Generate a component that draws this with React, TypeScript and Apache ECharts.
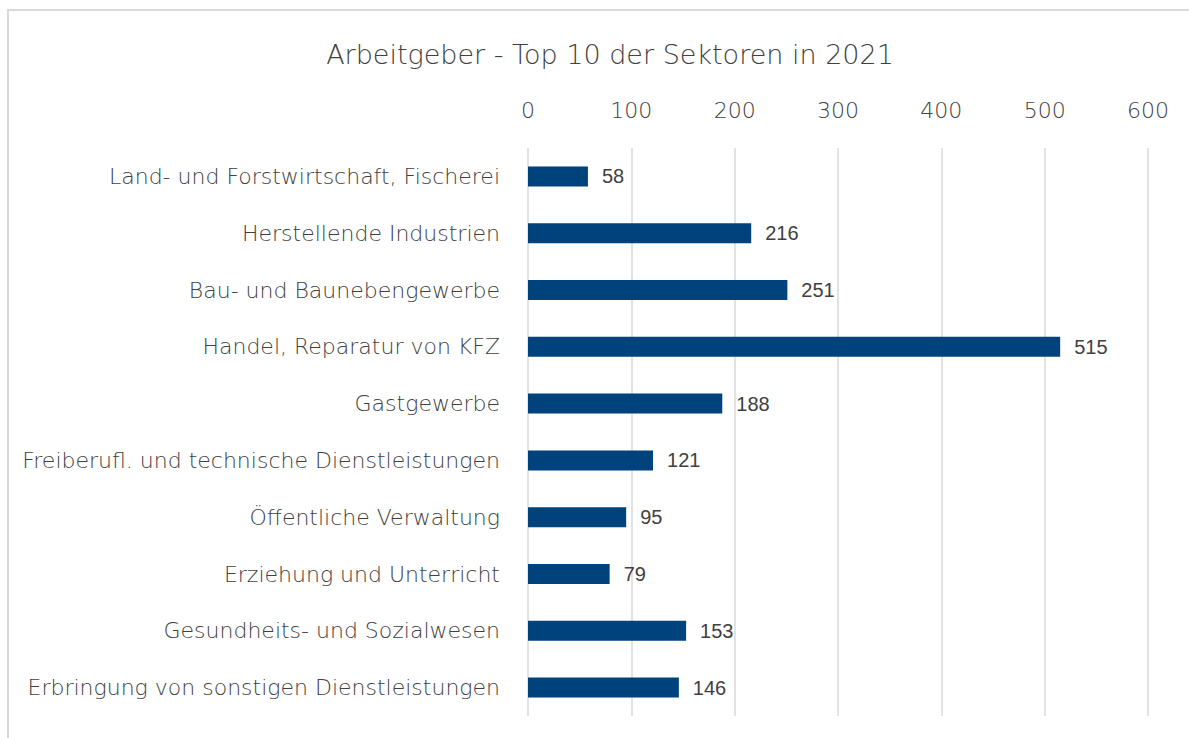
import React, { useEffect, useRef } from "react";
import * as echarts from "echarts";

const categories = [
  "Land- und Forstwirtschaft, Fischerei",
  "Herstellende Industrien",
  "Bau- und Baunebengewerbe",
  "Handel, Reparatur von KFZ",
  "Gastgewerbe",
  "Freiberufl. und technische Dienstleistungen",
  "Öffentliche Verwaltung",
  "Erziehung und Unterricht",
  "Gesundheits- und Sozialwesen",
  "Erbringung von sonstigen Dienstleistungen",
];
const values = [58, 216, 251, 515, 188, 121, 95, 79, 153, 146];
const titleText = "Arbeitgeber - Top 10 der Sektoren in 2021";

const FONT = "'DejaVu Sans', Inter, sans-serif";
const LABEL_FONT = "'Liberation Sans', Arial, sans-serif";
const TEXT = "#404040";

export default function App() {
  const ref = useRef<HTMLDivElement>(null);
  useEffect(() => {
    const chart = echarts.init(ref.current!, null, { renderer: "svg" });
    chart.setOption({
      animation: false,
      backgroundColor: "#ffffff",
      title: {
        text: titleText,
        left: 605,
        textAlign: "center",
        top: 36,
        textStyle: { fontFamily: FONT, fontSize: 27, fontWeight: 200, color: TEXT },
      },
      graphic: [
        {
          type: "rect",
          shape: { x: 8, y: 10, width: 1200, height: 800 },
          style: { fill: "none", stroke: "#d9d9d9", lineWidth: 2 },
          silent: true,
          z: -1,
        },
      ],
      grid: { left: 528, right: 41, top: 148, bottom: 22, containLabel: false },
      xAxis: {
        type: "value",
        position: "top",
        min: 0,
        max: 600,
        interval: 100,
        axisLine: { show: false },
        axisTick: { show: false },
        axisLabel: { margin: 27, fontFamily: FONT, fontSize: 22, fontWeight: 200, color: TEXT },
        splitLine: { show: true, lineStyle: { color: "#d9d9d9", width: 1.5 } },
      },
      yAxis: {
        type: "category",
        data: categories,
        inverse: true,
        axisLine: { show: false },
        axisTick: { show: false },
        axisLabel: { margin: 28, fontFamily: FONT, fontSize: 22, fontWeight: 200, color: TEXT },
      },
      series: [
        {
          type: "bar",
          data: values,
          barWidth: 20,
          itemStyle: { color: "#00427b" },
          label: {
            show: true,
            position: "right",
            distance: 14,
            fontFamily: LABEL_FONT,
            fontSize: 20,
            fontWeight: "normal",
            color: "#404040",
          },
        },
      ],
    });
    return () => chart.dispose();
  }, []);
  return (
    <div
      ref={ref}
      style={{ position: "absolute", left: 0, top: 0, width: 1189, height: 738 }}
    />
  );
}
